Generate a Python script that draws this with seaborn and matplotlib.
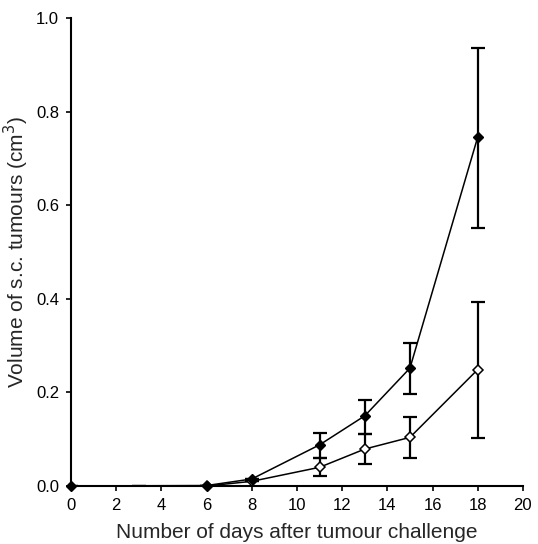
import numpy as np
import pandas as pd
import matplotlib
matplotlib.use("Agg")
import matplotlib.pyplot as plt
import seaborn as sns

days_filled = [0, 6, 8, 11, 13, 15, 18]
vol_filled = [0.0, 0.001, 0.015, 0.088, 0.150, 0.252, 0.746]
err_lo_filled = [0, 0, 0, 0.028, 0.039, 0.055, 0.194]
err_hi_filled = [0, 0, 0, 0.026, 0.034, 0.054, 0.190]

days_open = [3, 6, 8, 11, 13, 15, 18]
vol_open = [0.0, 0.0, 0.010, 0.040, 0.079, 0.104, 0.249]
err_lo_open = [0, 0, 0, 0.018, 0.032, 0.044, 0.146]
err_hi_open = [0, 0, 0, 0.020, 0.032, 0.043, 0.144]

sns.set_style("ticks")
plt.rcParams['font.family'] = ['Liberation Sans', 'DejaVu Sans']

fig = plt.figure(figsize=(5.38, 5.44), dpi=100)
ax = fig.add_axes([0.132, 0.1066, 0.840, 0.860])

df_f = pd.DataFrame({"day": days_filled, "vol": vol_filled})
df_o = pd.DataFrame({"day": days_open, "vol": vol_open})

ax.errorbar(days_filled, vol_filled, yerr=[err_lo_filled, err_hi_filled],
            fmt="none", ecolor="black", elinewidth=1.6, capsize=5, capthick=1.6, zorder=2)
ax.errorbar(days_open, vol_open, yerr=[err_lo_open, err_hi_open],
            fmt="none", ecolor="black", elinewidth=1.6, capsize=5, capthick=1.6, zorder=2)

sns.lineplot(data=df_f, x="day", y="vol", ax=ax, color="black", lw=1.1, zorder=3)
sns.lineplot(data=df_o, x="day", y="vol", ax=ax, color="black", lw=1.1, zorder=3)
ax.plot(days_open[1:], vol_open[1:], ls="none", marker="D", markersize=5.5,
        markerfacecolor="white", markeredgecolor="black", markeredgewidth=1.1, zorder=4)
# filled markers drawn over open ones at overlapping early points
ax.plot(days_filled, vol_filled, ls="none", marker="D", markersize=5.5,
        color="black", zorder=5, clip_on=False)

ax.set_xlim(0, 20)
ax.set_ylim(0, 1.0)
ax.set_xticks(np.arange(0, 21, 2))
ax.set_yticks(np.arange(0, 1.01, 0.2))
ax.set_yticklabels([f"{v:.1f}" for v in np.arange(0, 1.01, 0.2)])
ax.tick_params(labelsize=12, length=3.5, width=1.2, color="black", labelcolor="black", pad=5)
for s in ["left", "bottom"]:
    ax.spines[s].set_linewidth(1.5)
    ax.spines[s].set_color("black")
sns.despine(ax=ax)
ax.set_xlabel("Number of days after tumour challenge", fontsize=15, labelpad=7)
ax.set_ylabel("Volume of s.c. tumours (cm$^3$)", fontsize=15, labelpad=4)

fig.savefig("out.png", dpi=100)
